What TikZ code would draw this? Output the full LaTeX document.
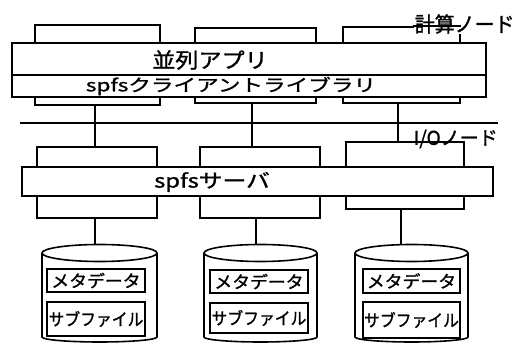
\documentclass[tikz,border=0pt]{standalone}
\usepackage{graphicx}
\usepackage{fontspec}
\newfontfamily\jpfont[FakeBold=1.2]{Noto Sans CJK JP}
\tikzset{
  bx/.style={draw, fill=white, rectangle, inner sep=0pt},
  lbl/.style={inner sep=0pt, font=\jpfont},
}
\newcommand{\jtxt}[3]{\fontsize{#1}{#1}\selectfont\scalebox{#2}[1]{#3}}
\begin{document}
\begin{tikzpicture}[x=1pt, y=-1pt, line width=1.6pt]
\useasboundingbox (0,0) rectangle (514,344);
% compute nodes
\node[bx, minimum width=125, minimum height=80] (c1) at (97.5,65) {};
\node[bx, minimum width=121, minimum height=75] (c2) at (255.5,65.5) {};
\node[bx, minimum width=117, minimum height=76] (c3) at (401.5,65) {};
\node[lbl, anchor=west, fill=white, inner xsep=1pt] (calc) at (413,24) {\jtxt{21}{0.95}{計算ノード}};
\draw (c3.north east) -- (calc.west |- c3.north);
% application + library bar
\node[bx, minimum width=474, minimum height=32] (app) at (249,59) {};
\node[bx, minimum width=474, minimum height=22] (lib) at (249,86) {};
\node[lbl] (appt) at (210,60) {\jtxt{21}{1.1}{並列アプリ}};
\node[lbl] (libt) at (231,86) {\jtxt{17}{1.33}{spfsクライアントライブラリ}};
% bus
\coordinate (busw) at (20,123);
\coordinate (buse) at (498,123);
\draw (busw) -- (buse);
\coordinate (v1) at (95,123);
\coordinate (v2) at (252,123);
\coordinate (v3) at (398,123);
% I/O nodes
\node[bx, minimum width=120, minimum height=71] (s1) at (97,182.5) {};
\node[bx, minimum width=120, minimum height=71] (s2) at (260,182.5) {};
\node[bx, minimum width=118, minimum height=67] (s3) at (405,175.5) {};
\node[bx, minimum width=471, minimum height=29] (srv) at (257.5,181.5) {};
\node[lbl] (srvt) at (212,182) {\jtxt{19}{1.25}{spfsサーバ}};
\node[lbl, anchor=west] (iot) at (413,139) {\jtxt{19}{1.0}{I/Oノード}};
% connectors compute -> bus -> server
\draw (v1 |- c1.south) -- (v1) -- (v1 |- s1.north);
\draw (v2 |- c2.south) -- (v2) -- (v2 |- s2.north);
\draw (v3 |- c3.south) -- (v3) -- (v3 |- s3.north);
% disks
\foreach \n/\xa/\xb in {1/42/157, 2/204/317, 3/355/468} {
  \pgfmathsetmacro{\cx}{(\xa+\xb)/2}
  \pgfmathsetmacro{\rx}{(\xb-\xa)/2}
  \draw[fill=white] (\xa,253) -- (\xa,337) arc[start angle=180, end angle=0, x radius=\rx, y radius=5] -- (\xb,253);
  \draw[fill=white] (\cx,253) ellipse [x radius=\rx, y radius=8.5];
  \coordinate (d\n) at (\cx,244.5);
}
\node[bx, minimum width=98, minimum height=23] (m1) at (96,280.5) {};
\node[bx, minimum width=98, minimum height=34] (f1) at (96,319) {};
\node[bx, minimum width=98, minimum height=23] (m2) at (259,281.5) {};
\node[bx, minimum width=98, minimum height=30] (f2) at (259,318) {};
\node[bx, minimum width=97, minimum height=24] (m3) at (411.5,281) {};
\node[bx, minimum width=97, minimum height=36] (f3) at (411.5,320) {};
\foreach \n in {1,2,3} {
  \node[lbl] at (m\n) {\jtxt{17}{1.05}{メタデータ}};
  \node[lbl] at (f\n) {\jtxt{17}{0.93}{サブファイル}};
}
\coordinate (w1) at (95,0);
\coordinate (w2) at (256,0);
\coordinate (w3) at (401,0);
\draw (w1 |- s1.south) -- (w1 |- d1);
\draw (w2 |- s2.south) -- (w2 |- d2);
\draw (w3 |- s3.south) -- (w3 |- d3);
\end{tikzpicture}
\end{document}
